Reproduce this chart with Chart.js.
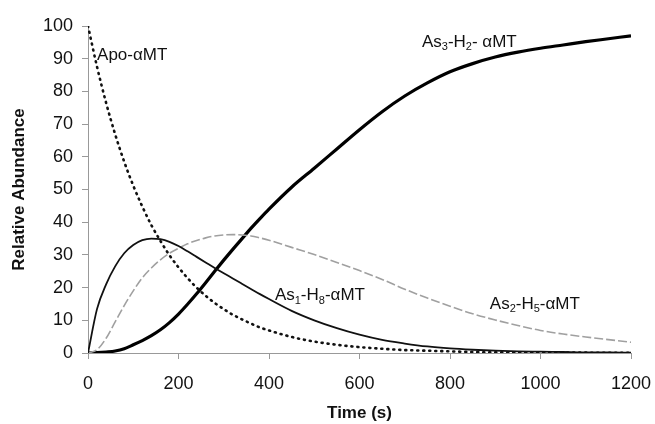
<!DOCTYPE html>
<html>
<head>
<meta charset="utf-8">
<script src="https://cdn.jsdelivr.net/npm/chart.js@4.4.1/dist/chart.umd.min.js"></script>
<style>
  html, body { margin: 0; padding: 0; background: #fff; }
  #wrap { width: 655px; height: 424px; }
</style>
</head>
<body>
<div id="wrap"><canvas id="kinetics"></canvas></div>
<script>
// time points (s)
const times = [0, 20, 40, 60, 80, 100, 120, 140, 160, 180, 200, 220, 240, 260, 280, 300, 320, 340, 360, 380, 400,
    450, 500, 550, 600, 650, 700, 750, 800, 850, 900, 950, 1000, 1050, 1100, 1150, 1200];

// relative abundance of each species
const apo = [100, 87.5, 76.5, 66.9, 58.5, 51.2, 44.8, 39.1, 34.3, 29.9, 26.2, 22.9, 20.0, 17.5, 15.3, 13.4, 11.7, 10.3, 9.0, 7.8, 6.9,
    4.9, 3.5, 2.5, 1.8, 1.3, 0.9, 0.7, 0.5, 0.3, 0.2, 0.2, 0.1, 0.1, 0.1, 0.05, 0.03];
const as1 = [0, 13.5, 21, 26.5, 30.5, 33, 34.5, 35, 34.8, 34, 32.7, 31.1, 29.4, 27.7, 26.0, 24.4, 22.8, 21.2, 19.6, 18, 16.5,
    12.9, 10.0, 7.6, 5.6, 4.0, 2.9, 2.0, 1.4, 1.0, 0.7, 0.5, 0.4, 0.3, 0.2, 0.2, 0.1];
const as2 = [0, 1, 4.5, 9.5, 14.5, 19, 23, 26, 28.5, 30.5, 32, 33.4, 34.4, 35.2, 35.8, 36.1, 36.2, 36.1, 35.8, 35.2, 34.5,
    32.3, 30.1, 27.7, 25.2, 22.5, 19.5, 16.8, 14.3, 12.0, 10.1, 8.4, 6.9, 5.8, 4.9, 4.1, 3.3];
const as3 = [0, 0.1, 0.3, 0.6, 1.3, 2.5, 3.8, 5.3, 7.1, 9.3, 11.9, 14.9, 18.1, 21.5, 25.0, 28.4, 31.7, 34.9, 38.1, 41.1, 44.0,
    50.7, 56.5, 62.4, 68.3, 73.8, 78.6, 82.6, 86.0, 88.5, 90.5, 92.0, 93.2, 94.2, 95.2, 96.1, 97];

// tick values
const xTicks = [0, 200, 400, 600, 800, 1000, 1200];
const yTicks = [0, 10, 20, 30, 40, 50, 60, 70, 80, 90, 100];

// curve labels: [text, isSubscript] pieces, anchored at (t, value)
const curveLabels = [
    { parts: [['Apo-αMT', 0]], t: 20, v: 91 },
    { parts: [['As', 0], ['3', 1], ['-H', 0], ['2', 1], ['- αMT', 0]], t: 738, v: 95 },
    { parts: [['As', 0], ['1', 1], ['-H', 0], ['8', 1], ['-αMT', 0]], t: 413, v: 17.5 },
    { parts: [['As', 0], ['2', 1], ['-H', 0], ['5', 1], ['-αMT', 0]], t: 888, v: 15 }
];

const FONT = '"Liberation Sans", Arial, Helvetica, sans-serif';

function pts(arr) {
    return times.map((t, i) => ({ x: t, y: arr[i] }));
}

const labelPlugin = {
    id: 'curveLabels',
    afterDatasetsDraw(chart) {
        const ctx = chart.ctx;
        const xs = chart.scales.x, ys = chart.scales.y;
        ctx.save();
        ctx.fillStyle = '#111';
        ctx.textBaseline = 'middle';
        ctx.textAlign = 'left';
        curveLabels.forEach(lab => {
            let x = xs.getPixelForValue(lab.t);
            const y = ys.getPixelForValue(lab.v);
            lab.parts.forEach(([txt, sub]) => {
                ctx.font = (sub ? '11px ' : '17px ') + FONT;
                ctx.fillText(txt, x, sub ? y + 5 : y);
                x += ctx.measureText(txt).width;
            });
        });
        ctx.restore();
    }
};

const config = {
    type: 'line',
    data: {
        datasets: [
            { label: 'Apo-αMT', data: pts(apo), borderColor: '#111', borderWidth: 2.6,
              borderDash: [1, 5], borderCapStyle: 'round' },
            { label: 'As1-H8-αMT', data: pts(as1), borderColor: '#111', borderWidth: 1.8 },
            { label: 'As2-H5-αMT', data: pts(as2), borderColor: '#a0a0a0', borderWidth: 1.6,
              borderDash: [9, 3] },
            { label: 'As3-H2-αMT', data: pts(as3), borderColor: '#000', borderWidth: 3.2 }
        ]
    },
    options: {
        responsive: true,
        maintainAspectRatio: false,
        animation: false,
        events: [],
        layout: { padding: { top: 26, right: 24, left: 5, bottom: 0 } },
        elements: {
            point: { radius: 0 },
            line: { cubicInterpolationMode: 'monotone' }
        },
        plugins: { legend: { display: false }, tooltip: { enabled: false } },
        scales: {
            x: {
                type: 'linear',
                min: 0, max: 1200,
                afterBuildTicks: s => { s.ticks = xTicks.map(v => ({ value: v })); },
                afterFit: s => { s.height = 71; s.paddingRight = 0; s.paddingLeft = 0; },
                border: { color: '#999', width: 1 },
                grid: { drawOnChartArea: false, tickLength: 6, color: '#999' },
                ticks: { color: '#111', font: { family: FONT, size: 18 }, padding: 14, maxRotation: 0,
                         callback: v => String(v) },
                title: { display: true, text: 'Time (s)', color: '#111',
                         font: { family: FONT, size: 17, weight: 'bold' }, padding: { top: 4, bottom: 0 } }
            },
            y: {
                min: 0, max: 100,
                afterBuildTicks: s => { s.ticks = yTicks.map(v => ({ value: v })); },
                afterFit: s => { s.width = 83; },
                border: { color: '#999', width: 1 },
                grid: { drawOnChartArea: false, tickLength: 6, color: '#999' },
                ticks: { color: '#111', font: { family: FONT, size: 18 }, padding: 9,
                         callback: v => String(v) },
                title: { display: true, text: 'Relative Abundance', color: '#111',
                         font: { family: FONT, size: 17, weight: 'bold' }, padding: { bottom: 2 } }
            }
        }
    },
    plugins: [labelPlugin]
};

const chart = new Chart(document.getElementById('kinetics'), config);
</script>
</body>
</html>
